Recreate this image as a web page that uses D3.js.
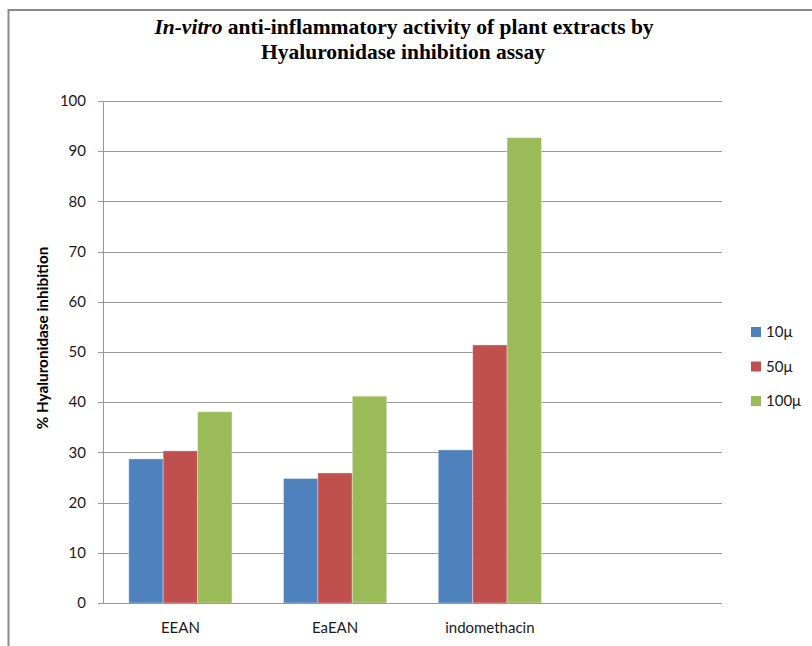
<!DOCTYPE html>
<html>
<head>
<meta charset="utf-8">
<script src="https://cdn.jsdelivr.net/npm/d3@7/dist/d3.min.js"></script>
<style>
  html, body { margin: 0; padding: 0; background: #fff; }
  svg { display: block; }
</style>
</head>
<body>
<svg id="chart" width="812" height="646"></svg>
<script>
// Extracts and reference drug tested
const categories = ["EEAN", "EaEAN", "indomethacin"];
// Concentrations (legend entries)
const seriesNames = ["10\u03bc", "50\u03bc", "100\u03bc"];
const seriesColors = ["#4F81BD", "#C0504D", "#9BBB59"];
// % inhibition per concentration, one value per category
const values10 = [28.7, 24.8, 30.5];
const values50 = [30.3, 25.9, 51.4];
const values100 = [38.1, 41.2, 92.7];
const yTicks = [0, 10, 20, 30, 40, 50, 60, 70, 80, 90, 100];

const seriesValues = [values10, values50, values100];

const svg = d3.select("#chart");
const W = 812, H = 646;
const plot = { left: 103, right: 722, top: 101, bottom: 603 };
const sans = "Lato, 'Open Sans', sans-serif";

svg.append("rect").attr("width", W).attr("height", H).attr("fill", "#fff");

// outer chart frame
svg.append("rect")
  .attr("x", 8.5).attr("y", 10)
  .attr("width", 900).attr("height", 700)
  .attr("fill", "none").attr("stroke", "#8a8a8a").attr("stroke-width", 2);

// a blank fourth slot keeps the category spacing of the axis
const slots = [...categories, ""];
const x0 = d3.scaleBand().domain(slots).range([plot.left, plot.right]).padding(0);
const barW = x0.bandwidth() / 4.5;
const x1 = d3.scaleBand().domain(d3.range(seriesNames.length)).range([0, barW * 3]).padding(0);
const y = d3.scaleLinear().domain([0, 100]).range([plot.bottom, plot.top]);

// gridlines
svg.append("g")
  .selectAll("line")
  .data(yTicks)
  .join("line")
  .attr("x1", plot.left - 5).attr("x2", plot.right)
  .attr("y1", d => Math.round(y(d)) + 0.5).attr("y2", d => Math.round(y(d)) + 0.5)
  .attr("stroke", "#9a9a9a").attr("stroke-width", 1);

// value axis line
svg.append("line")
  .attr("x1", plot.left + 0.5).attr("x2", plot.left + 0.5)
  .attr("y1", plot.top).attr("y2", plot.bottom + 0.5)
  .attr("stroke", "#9a9a9a");

// value axis labels
svg.append("g")
  .selectAll("text")
  .data(yTicks)
  .join("text")
  .attr("x", 86).attr("y", d => y(d))
  .attr("dy", "0.35em")
  .attr("text-anchor", "end")
  .attr("font-family", sans).attr("font-size", 15).attr("fill", "#1a1a1a")
  .text(d => d);

// bars
const groups = svg.append("g")
  .selectAll("g")
  .data(categories)
  .join("g")
  .attr("transform", c => `translate(${x0(c) + (x0.bandwidth() - barW * 3) / 2},0)`);

groups.selectAll("rect")
  .data((c, ci) => seriesValues.map((vals, si) => ({ si, v: vals[ci] })))
  .join("rect")
  .attr("x", d => x1(d.si))
  .attr("width", x1.bandwidth())
  .attr("y", d => y(d.v))
  .attr("height", d => y(0) - y(d.v))
  .attr("fill", d => seriesColors[d.si])
  .attr("stroke", "rgba(255,255,255,0.35)")
  .attr("stroke-width", 1);

// baseline on top of bars
svg.append("line")
  .attr("x1", plot.left - 5).attr("x2", plot.right)
  .attr("y1", Math.round(y(0)) + 0.5).attr("y2", Math.round(y(0)) + 0.5)
  .attr("stroke", "#9a9a9a");

// category labels
svg.append("g")
  .selectAll("text")
  .data(categories)
  .join("text")
  .attr("x", c => x0(c) + x0.bandwidth() / 2)
  .attr("y", 633)
  .attr("text-anchor", "middle")
  .attr("font-family", sans).attr("font-size", 15).attr("fill", "#1a1a1a")
  .text(c => c);

// value axis title
svg.append("text")
  .attr("transform", "translate(48,338) rotate(-90)")
  .attr("text-anchor", "middle")
  .attr("font-family", sans).attr("font-size", 15.3).attr("font-weight", "bold")
  .attr("fill", "#000")
  .text("% Hyaluronidase inhibition");

// chart title
const title = svg.append("g")
  .attr("font-family", "'Liberation Serif', 'Times New Roman', serif")
  .attr("font-weight", "bold").attr("font-size", 21.5).attr("fill", "#000")
  .attr("text-anchor", "middle")
  .style("white-space", "pre");
const t1 = title.append("text").attr("x", 404).attr("y", 34);
t1.append("tspan").attr("font-style", "italic").text("In-vitro");
t1.append("tspan").text(" anti-inflammatory  activity of plant extracts by");
title.append("text").attr("x", 403).attr("y", 59).text("Hyaluronidase  inhibition assay");

// legend
const legend = svg.append("g")
  .selectAll("g")
  .data(seriesNames)
  .join("g")
  .attr("transform", (d, i) => `translate(751,${332 + i * 34.5})`);
legend.append("rect")
  .attr("x", 0).attr("y", -5).attr("width", 10).attr("height", 10)
  .attr("fill", (d, i) => seriesColors[i]);
legend.append("text")
  .attr("x", 15).attr("y", 0).attr("dy", "0.35em")
  .attr("font-family", sans).attr("font-size", 15).attr("fill", "#1a1a1a")
  .text(d => d);
</script>
</body>
</html>
